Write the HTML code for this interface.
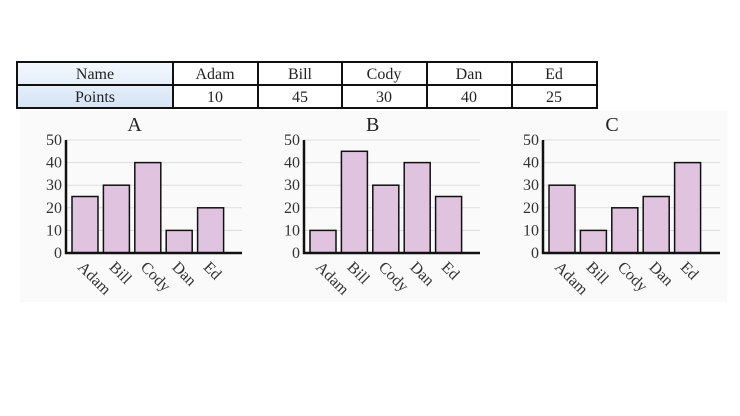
<!DOCTYPE html>
<html><head><meta charset="utf-8"><style>
body{margin:0;background:#fff;width:740px;height:416px;overflow:hidden}
svg{display:block;font-family:"Liberation Serif",serif}
</style></head><body>
<svg width="740" height="416" viewBox="0 0 740 416">
<defs><linearGradient id="hg" x1="0" y1="0" x2="0" y2="1"><stop offset="0" stop-color="#f4f8fe"/><stop offset="1" stop-color="#d6e4f6"/></linearGradient></defs>
<rect x="20" y="111" width="707" height="191" fill="#fafafa"/>
<rect x="17" y="62" width="156" height="46" fill="url(#hg)"/>
<rect x="17" y="62" width="580" height="46" fill="none" stroke="#111" stroke-width="2"/>
<line x1="17" y1="85" x2="597" y2="85" stroke="#111" stroke-width="2"/>
<g stroke="#111" stroke-width="2">
<line x1="173" y1="62" x2="173" y2="108"/><line x1="258" y1="62" x2="258" y2="108"/><line x1="342" y1="62" x2="342" y2="108"/><line x1="427" y1="62" x2="427" y2="108"/><line x1="512" y1="62" x2="512" y2="108"/>
</g>
<g font-size="16" fill="#222" text-anchor="middle">
<text x="95" y="79">Name</text><text x="215" y="79">Adam</text><text x="300" y="79">Bill</text><text x="384" y="79">Cody</text><text x="469" y="79">Dan</text><text x="554" y="79">Ed</text>
<text x="95" y="102">Points</text><text x="215" y="102">10</text><text x="300" y="102">45</text><text x="384" y="102">30</text><text x="469" y="102">40</text><text x="554" y="102">25</text>
</g>
<g id="charts"></g>
</svg>
<script>
var charts=[["A",66,242,[25,30,40,10,20]],["B",304,480,[10,45,30,40,25]],["C",543,720,[30,10,20,25,40]]];
var names=["Adam","Bill","Cody","Dan","Ed"];
var s="";
charts.forEach(function(c){
 var x0=c[1],x1=c[2];
 s+='<text x="'+(x0+(x1-x0)*0.39)+'" y="131" font-size="20" text-anchor="middle" fill="#222">'+c[0]+'</text>';
 for(var v=0;v<=50;v+=10){var y=253-v*2.26;
  if(v>0)s+='<line x1="'+x0+'" y1="'+y+'" x2="'+x1+'" y2="'+y+'" stroke="#ddd" stroke-width="1"/>';
  s+='<text x="'+(x0-4)+'" y="'+(y+5)+'" font-size="16" text-anchor="end" fill="#333">'+v+'</text>';}
 c[3].forEach(function(v,i){var bx=x0+6+i*31.4,h=v*2.26;
  s+='<rect x="'+bx+'" y="'+(253-h)+'" width="26" height="'+h+'" fill="#dfc3df" stroke="#111" stroke-width="1.5"/>';
  var cx=bx+13-8;
  s+='<text x="'+cx+'" y="268" font-size="16" fill="#333" transform="rotate(45 '+cx+' 268)">'+names[i]+'</text>';});
 s+='<line x1="'+x0+'" y1="140" x2="'+x0+'" y2="254" stroke="#111" stroke-width="2.5"/>';
 s+='<line x1="'+(x0-1)+'" y1="253" x2="'+x1+'" y2="253" stroke="#111" stroke-width="2.5"/>';
});
document.getElementById("charts").innerHTML=s;
</script>
</body></html>
